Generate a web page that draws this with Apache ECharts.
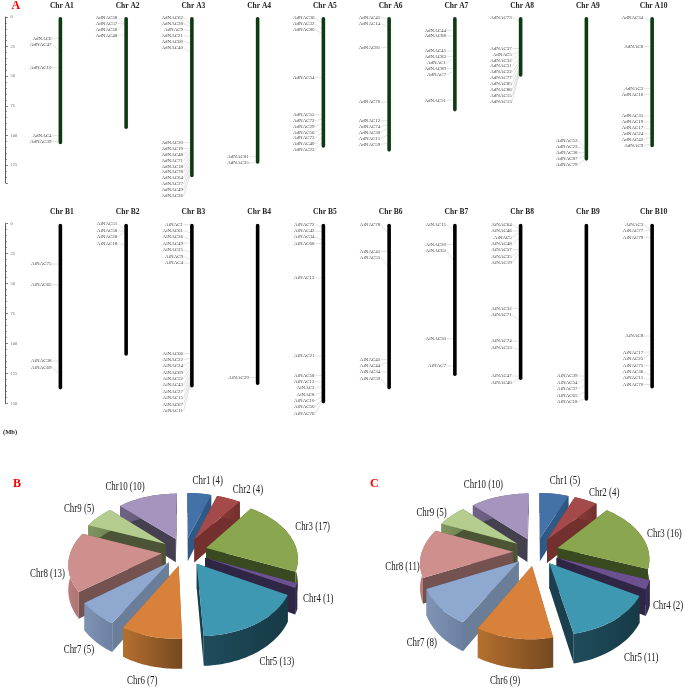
<!DOCTYPE html>
<html><head><meta charset="utf-8">
<style>html,body{margin:0;padding:0;background:#fff}#c{width:685px;height:688px}</style>
<script src="https://cdn.jsdelivr.net/npm/echarts@6/dist/echarts.min.js"></script>
</head><body><div id="c"></div>
<script>
const chrNamesA = ["Chr A1","Chr A2","Chr A3","Chr A4","Chr A5","Chr A6","Chr A7","Chr A8","Chr A9","Chr A10"];
const chrNamesB = ["Chr B1","Chr B2","Chr B3","Chr B4","Chr B5","Chr B6","Chr B7","Chr B8","Chr B9","Chr B10"];
const chrLengthsA = [107.5,94.6,135.4,123.9,110.4,113.7,79.7,50.4,121.3,110];
const chrLengthsB = [138.3,110.2,136.7,134.7,151,138.3,127.2,130.5,147.8,137.5];
const axisTicks = [0,25,50,75,100,125,150];

const geneIdsA = [
 [6,47,10,4,39],[38,57,30,48],[62,28,9,21,60,40,20,19,48,71,18,78,64,27,49,26],[81,35],
 [36,32,80,54,55,72,29,56,73,40,23],[41,14,81,70,12,74,30,11,59],[44,88,45,83,1,89,7,51],
 [73,37,5,32,31,22,77,85,86,15,13],[53,23,38,87,79],[34,8,2,16,35,19,17,24,42,9]];
const geneMbA = [
 [18,27.9,42.8,100.2,105],[5.5,5.6,5.8,15],[5.3,8.2,11.5,16.6,22,30,106.1,110.5,112,114,117,120,123,126,129,133],[118,123],
 [4.8,9.6,13.8,51,82.5,86.4,90.4,94.3,97.7,101.6,106.1],[1.4,8.2,25.6,71.8,87.6,91.2,94,99.7,106.7],[11.3,16,28.7,33,35.8,43.4,46.2,70.1],
 [3.1,26.7,29.3,32,35,37.7,40.5,43.4,45.6,47.6,49.3],[109.5,111,114.6,117.4,120.8],[3.7,25,60.2,65.3,83.6,88.7,94.9,98.8,101.6,107.3]];
const labelMbA = [
 [18,23,42.8,100.2,105.3],[.6,5.6,10.7,15.5],[.6,5.6,10.7,15.5,20.5,25.6,106.1,111.2,116.3,121.1,126.1,131,136,141,145.8,150.9],[118,123],
 [.6,5.6,10.7,51,82.5,87.6,92.3,97.4,102.2,107.3,112.3],[.6,5.6,25.6,71.8,87.6,92.7,97.7,102.5,107.5],[11.3,16,28.7,33.8,38.6,43.6,48.4,70.4],
 [.6,26.7,31.5,36.6,41.4,46.5,51.2,56.3,61.4,66.2,71.2],[104.7,109.8,114.6,119.7,124.4],[.6,25,60.2,65.3,83.6,88.7,93.5,98.5,103.3,108.4]];

const geneIdsB = [
 [75,65,38,69],[51,58,28,18],[1,61,26,49,25,9,4,66,22,24,69,52,43,27,15,67,11],[29],
 [72,42,34,68,13,21,58,12,2,8,10,50,76],[78,41,55,45,44,34,59],[15,20,62,50,7],
 [64,46,5,48,57,35,19,32,71,74,53,47,40],[39,54,37,65,18],[3,77,79,8,17,25,75,36,11,70]];
const geneMbB = [
 [33.7,50.9,114.7,124.4],[4.7,6.4,7.2,17.8],[.8,7.5,13,15.6,23.4,29.8,32.8,108.3,112.4,115.2,118,120.8,123.6,126.4,129.1,131.9,134.7],[128.3],
 [2.5,6.7,13.6,16.4,45.4,110.5,126.6,131.9,136,141,144.5,147.2,149.5],[7.5,23.1,34.5,113.3,115.2,123.9,136],[5.3,17.3,30.3,96,118.8],
 [3.9,6.1,7.5,12.2,21.4,22.5,24.8,70.7,80.4,98,104.9,127.2,129.1],[127.2,129.1,134.7,140.3,145.8],[4.7,5.3,11.4,93.8,107,108.3,118.8,126.4,130.5,134.2]];
const labelMbB = [
 [33.7,50.9,114.7,120],[.3,5.8,11.1,16.7],[.8,5.8,11.1,16.7,22,27.3,32.8,108.3,113.6,118.6,124.1,129.4,134.7,140,145.6,150.8,156.4],[128.3],
 [.8,6.1,11.1,16.7,45.4,110.5,126.6,131.9,137.2,142.5,147.8,153.1,158.6],[.6,23.1,28.7,113.3,118.6,123.9,129.1],[.8,17.3,22.5,96,118.8],
 [.8,6.1,11.4,17,22,27.3,32.6,70.7,76.3,98,103.3,127.2,132.8],[127.2,132.8,138,143.3,148.9],[.8,6.1,11.4,93.8,107.4,112.7,118.3,123.6,128.9,134.2]];

const pieNames = ["Chr1","Chr2","Chr3","Chr4","Chr5","Chr6","Chr7","Chr8","Chr9","Chr10"];
const pieValuesB = [4,4,17,1,13,7,5,13,5,10];
const pieValuesC = [5,4,16,2,11,9,8,11,5,10];

const topColors = ["#4472a8","#a54a4a","#8aa64f","#6b5190","#3f98b1","#d8813b","#8fa8cf","#cf8f8c","#b4cc8e","#a594bd"];
const cutColors = ["#2f5a88","#73302e","#3a4a20","#2f2545","#1c3f4d","#a86a30","#6a7d99","#735250","#4b5535","#45404f"];
const wallLeft  = ["#35608f","#8a3b39","#5f7432","#3d2f5c","#1f4c5c","#b5702f","#7f94b5","#b97f7c","#7f9560","#6f6285"];
const wallRight = ["#2f5580","#73302e","#4c5e28","#2f2545","#173a46","#754820","#6c80a0","#a86f6c","#6f8450","#5c5170"];
const labelNudgeB = [[6,-3],[12,0],[4,-4],[-3,-8],[2,5],[0,7],[4,6],[3,-2],[-4,-2],[-16,-1]];
const labelNudgeC = [[8,-4],[10,1],[4,2],[-5,0],[7,6],[-3,4],[5,8],[4,2],[-5,3],[-10,-3]];

const SERIF = '"Liberation Serif","Times New Roman",serif';
const PIE = {Rx:91, Ry:56.3, h:24, p:.16, e:.25, cy:551.5};

function geneSeries(gridIdx, ids, mbs, labs, prefix){
  const rows = [], names = [];
  ids.forEach((list,c)=>list.forEach((id,k)=>{rows.push([c,mbs[c][k],labs[c][k]]);names.push(prefix+id);}));
  return {
    type:'custom', xAxisIndex:gridIdx, yAxisIndex:gridIdx, silent:true, clip:false, data:rows,
    encode:{x:0,y:1},
    renderItem(params,api){
      const g = api.coord([api.value(0),api.value(1)]);
      const l = api.coord([api.value(0),api.value(2)]);
      return {type:'group',children:[
        {type:'line',shape:{x1:g[0]-8.3,y1:l[1],x2:g[0]-1.8,y2:g[1]},style:{stroke:'#c4c4c4',lineWidth:.5,fill:null}},
        {type:'text',x:g[0]-8.8,y:l[1],style:{text:names[params.dataIndex],align:'right',verticalAlign:'middle',fill:'#444',fontFamily:SERIF,fontSize:5}}
      ]};
    }
  };
}
function barSeries(gridIdx, lengths, color){
  return {type:'bar',xAxisIndex:gridIdx,yAxisIndex:gridIdx,barWidth:3.6,silent:true,data:lengths,
    itemStyle:{color:color,borderRadius:1.8}};
}
function pieSeries(values, cx, nudges){
  const total = values.reduce((a,b)=>a+b,0);
  const starts = []; values.reduce((a,v,i)=>{starts[i]=a;return a+v;},0);
  const {Rx,Ry,h,p,e,cy} = PIE;
  const proj = (X,Y,down)=>{const s=1/(1-p*Y);return [cx+Rx*X*s, cy+Ry*Y*s+(down?h*s:0)];};
  return {
    type:'custom', coordinateSystem:'none', silent:true, clip:false,
    data: values.map(v=>[v]),
    renderItem(params,api){
      const i = params.dataIndex, v = api.value(0);
      const a0 = starts[i]/total*2*Math.PI, a1 = (starts[i]+v)/total*2*Math.PI, m=(a0+a1)/2;
      const ox = e*Math.sin(m), oy = -e*Math.cos(m);
      const rim = (a,down)=>proj(ox+Math.sin(a),oy-Math.cos(a),down);
      const apex = d=>proj(ox,oy,d);
      const n = Math.max(4,Math.ceil((a1-a0)/0.04));
      const top=[apex(false)], wall=[], wallB=[];
      for(let k=0;k<=n;k++){const a=a0+(a1-a0)*k/n; const t=rim(a,false); top.push(t); wall.push(t); wallB.unshift(rim(a,true));}
      const z = Math.round(100-100*Math.cos(m));
      const poly=(pts,fill)=>({type:'polygon',z2:z,shape:{points:pts},style:{fill:fill,stroke:null}});
      const grad={type:'linear',x:0,y:0,x2:1,y2:0,colorStops:[{offset:0,color:wallLeft[i]},{offset:1,color:wallRight[i]}]};
      const LR=1.5, Y=oy/e*LR, X=ox/e*LR, ls=1/(1-p*Y);
      const lx=cx+Rx*X*ls+nudges[i][0], ly=cy+Ry*Y*ls+(Y>0?h*ls*.5:0)+nudges[i][1];
      return {type:'group',children:[
        poly([apex(false),rim(a0,false),rim(a0,true),apex(true)],cutColors[i]),
        poly([apex(false),rim(a1,false),rim(a1,true),apex(true)],cutColors[i]),
        poly(wall.concat(wallB),grad),
        poly(top,topColors[i]),
        {type:'text',z2:400,x:lx,y:ly,scaleX:.74,style:{text:pieNames[i]+' ('+v+')',align:'center',verticalAlign:'middle',fill:'#222',fontFamily:SERIF,fontSize:12}}
      ]};
    }
  };
}
const xAxisOf=(gridIdx,names,margin)=>({gridIndex:gridIdx,type:'category',position:'top',data:names,
  axisLine:{show:false},axisTick:{show:false},
  axisLabel:{interval:0,margin:margin,padding:[0,0,0,3],color:'#222',fontWeight:'bold',fontFamily:SERIF,fontSize:7.5}});
const yAxisOf=(gridIdx,max)=>({gridIndex:gridIdx,type:'value',inverse:true,min:0,max:max,interval:25,offset:22,position:'left',
  splitLine:{show:false},
  axisLine:{show:true,lineStyle:{color:'#333',width:.8}},
  axisTick:{show:true,inside:true,length:2.5,lineStyle:{color:'#333',width:.6}},
  minorTick:{show:true,splitNumber:5,length:1.5,lineStyle:{color:'#333',width:.5}},
  axisLabel:{inside:true,margin:5,color:'#666',fontFamily:SERIF,fontSize:4.5,customValues:axisTicks.filter(t=>t<=max)}});

const chart = echarts.init(document.getElementById('c'),null,{renderer:'canvas'});
chart.setOption({
  animation:false, backgroundColor:'#fff',
  grid:[
    {left:27.5,width:660,top:17,height:165.8},
    {left:27.5,width:660,top:223.7,height:179.7}
  ],
  xAxis:[xAxisOf(0,chrNamesA,7),xAxisOf(1,chrNamesB,8)],
  yAxis:[yAxisOf(0,140),yAxisOf(1,150)],
  series:[
    barSeries(0,chrLengthsA,'#0e3a12'),
    barSeries(1,chrLengthsB,'#000'),
    geneSeries(0,geneIdsA,geneMbA,labelMbA,'AdNAC'),
    geneSeries(1,geneIdsB,geneMbB,labelMbB,'AiNAC'),
    pieSeries(pieValuesB,184.3,labelNudgeB),
    pieSeries(pieValuesC,535.7,labelNudgeC)
  ],
  graphic:[
    {type:'text',left:11.5,top:0,style:{text:'A',fill:'#f00',fontFamily:SERIF,fontWeight:'bold',fontSize:12}},
    {type:'text',left:3,top:428.5,style:{text:'(Mb)',fill:'#222',fontFamily:SERIF,fontWeight:'bold',fontSize:6.5}},
    {type:'text',left:13,top:478,style:{text:'B',fill:'#f00',fontFamily:SERIF,fontWeight:'bold',fontSize:12}},
    {type:'text',left:370,top:478,style:{text:'C',fill:'#f00',fontFamily:SERIF,fontWeight:'bold',fontSize:12}}
  ]
});
</script></body></html>
